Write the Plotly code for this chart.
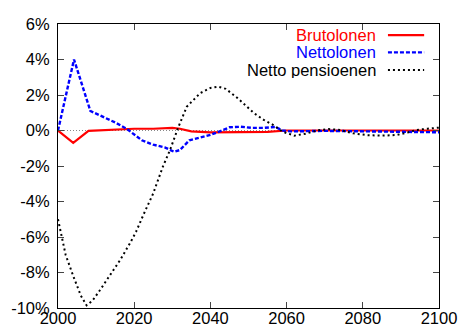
import plotly.graph_objects as go

# Yearly relative deviation (%) of three income measures
bruto_years = [2000, 2004, 2008, 2010, 2015, 2020, 2025, 2030, 2032, 2035, 2040,
               2050, 2055, 2060, 2070, 2080, 2090, 2100]
bruto_vals = [0.0, -0.7, -0.02, 0.0, 0.05, 0.1, 0.1, 0.15, 0.1, -0.05, -0.1,
              -0.1, -0.08, 0.0, 0.0, 0.0, 0.0, 0.0]

netto_years = [2000, 2004.2, 2008.5, 2012, 2015, 2018, 2020, 2022, 2025, 2028,
               2030.5, 2032, 2034.5, 2037, 2040, 2043, 2045, 2048, 2051, 2054,
               2057, 2059, 2061, 2070, 2080, 2090, 2100]
netto_vals = [0.0, 4.0, 1.1, 0.75, 0.45, 0.1, -0.2, -0.55, -0.8, -0.95,
              -1.2, -1.1, -0.55, -0.4, -0.25, 0.0, 0.18, 0.21, 0.15, 0.15,
              0.2, 0.0, -0.05, -0.02, -0.05, -0.08, -0.1]

pensioen_years = [2000, 2002, 2004, 2006, 2007.5, 2009, 2011, 2013.6, 2016.3,
                  2018.9, 2020.5, 2022.4, 2025, 2027.5, 2029.4, 2031.6, 2033.8,
                  2037.3, 2040, 2042, 2044, 2047, 2049, 2051.5, 2054, 2056.5,
                  2059, 2062, 2065, 2068, 2071, 2074, 2077.5, 2081, 2085, 2089,
                  2092, 2094, 2097, 2100]
pensioen_vals = [-5.0, -7.0, -8.2, -9.3, -9.85, -9.6, -9.0, -8.14, -7.3,
                 -6.35, -5.7, -4.76, -3.54, -2.05, -1.1, 0.2, 1.34,
                 2.1, 2.4, 2.47, 2.35, 1.85, 1.45, 0.97, 0.6, 0.31,
                 -0.07, -0.29, -0.18, 0.0, 0.08, 0.03, -0.16, -0.26, -0.29, -0.25,
                 -0.1, 0.03, 0.1, 0.16]

x_ticks = [2000, 2020, 2040, 2060, 2080, 2100]
y_ticks = [-10, -8, -6, -4, -2, 0, 2, 4, 6]
y_labels = [f"{v}%" for v in y_ticks]

series = [
    ("Brutolonen", bruto_years, bruto_vals, "#ff0000", "solid", 2.2),
    ("Nettolonen", netto_years, netto_vals, "#0000ff", "4px,2px", 2.4),
    ("Netto pensioenen", pensioen_years, pensioen_vals, "#000000", "2px,3px", 2.0),
]

FONT = "Liberation Sans, Arial, Helvetica, sans-serif"

fig = go.Figure()
for name, xs, ys, color, dash, width in series:
    fig.add_trace(go.Scatter(x=xs, y=ys, mode="lines", name=name,
                             line=dict(color=color, dash=dash, width=width),
                             showlegend=False))

# dotted zero axis
fig.add_shape(type="line", xref="paper", x0=0, x1=1, yref="y", y0=0, y1=0,
              line=dict(color="#888888", width=1, dash="1px,2px"), layer="below")

# key: right-aligned labels with line samples to their right
key_text_x = 0.837
key_line_x0, key_line_x1 = 0.866, 0.961
key_rows = [0.961, 0.900, 0.838]
for (name, _, _, color, dash, width), yk in zip(series, key_rows):
    fig.add_annotation(x=key_text_x, y=yk, xref="paper", yref="paper",
                       text=name, showarrow=False, xanchor="right", yanchor="middle",
                       height=16, borderpad=0,
                       font=dict(family=FONT, size=16.5, color=color))
    fig.add_shape(type="line", xref="paper", yref="paper",
                  x0=key_line_x0, x1=key_line_x1, y0=yk, y1=yk,
                  line=dict(color=color, dash=dash, width=width))

axis_common = dict(showline=True, linecolor="black", linewidth=1, mirror="ticks",
                   ticks="inside", ticklen=6, tickcolor="#444444", tickwidth=1,
                   showgrid=False, zeroline=False, automargin=False,
                   tickfont=dict(family=FONT, size=16.5, color="black"))

fig.update_layout(
    width=460, height=327,
    margin=dict(l=58, r=21, t=24, b=19),
    plot_bgcolor="white", paper_bgcolor="white",
    xaxis=dict(range=[2000, 2100], tickvals=x_ticks, ticklabelstandoff=-5, **axis_common),
    yaxis=dict(range=[-10, 6], tickvals=y_ticks, ticktext=y_labels,
               ticklabelstandoff=4, **axis_common),
)

fig.write_html("out.html")
